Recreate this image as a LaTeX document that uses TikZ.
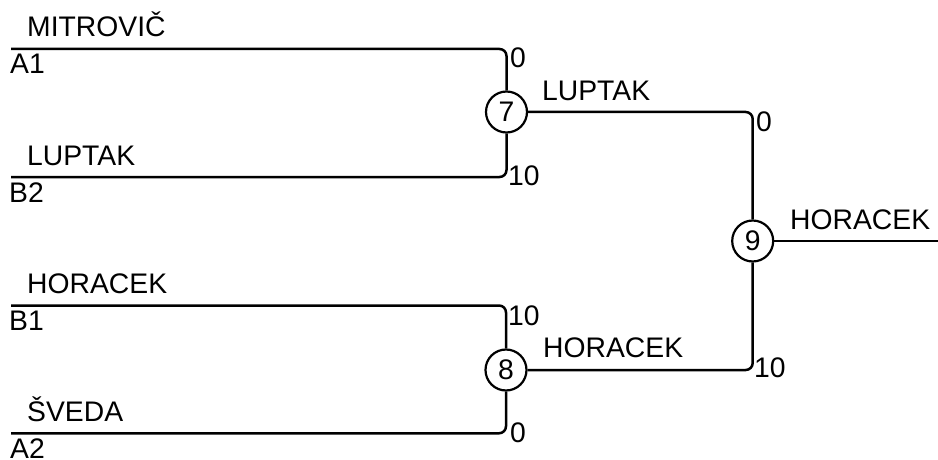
\documentclass[tikz,border=0pt]{standalone}
\usepackage{fontspec}
\setmainfont{Liberation Sans}
\usetikzlibrary{positioning}
\begin{document}
\begin{tikzpicture}[x=1pt,y=-1pt,font=\fontsize{28.3}{34}\selectfont,
    wire/.style={line width=2.5pt,rounded corners=7pt},
    match/.style={circle,draw,line width=2.2pt,minimum size=41pt,inner sep=0pt},
    lbl/.style={inner sep=0pt,anchor=base west}]
      \useasboundingbox (0,0) rectangle (938,460);
      \node[match] (m7) at (506.5,112) {7};
      \node[match] (m8) at (506,370) {8};
      \node[match] (m9) at (752.7,241) {9};
      \coordinate (a1) at (11,49);
      \coordinate (b2) at (11,177);
      \coordinate (b1) at (11,305.5);
      \coordinate (a2) at (11,433.3);
      \coordinate (out) at (938,241);
      \draw[wire] (a1) -| (m7);
      \draw[wire] (b2) -| (m7);
      \draw[wire] (b1) -| (m8);
      \draw[wire] (a2) -| (m8);
      \draw[wire] (m7) -| (m9);
      \draw[wire] (m8) -| (m9);
      \draw[wire] (m9) -- (out);
      \node[lbl] (pa1) at (27,37) {MITROVIČ};
      \node[lbl] (pb2) at (27,165) {LUPTAK};
      \node[lbl] (pb1) at (27,293.5) {HORACEK};
      \node[lbl] (pa2) at (27,421.3) {ŠVEDA};
      \node[lbl] (sa1) at (10,74) {A1};
      \node[lbl] (sb2) at (9,202) {B2};
      \node[lbl] (sb1) at (9,330.5) {B1};
      \node[lbl] (sa2) at (10,458) {A2};
      \node[lbl] (r7) at (542,100) {LUPTAK};
      \node[lbl] (r8) at (543,357) {HORACEK};
      \node[lbl] (r9) at (790,229) {HORACEK};
      \node[lbl] (ka1) at (510,68) {0};
      \node[lbl] (kb2) at (508,185.5) {10};
      \node[lbl] (kb1) at (508,325) {10};
      \node[lbl] (ka2) at (510,442) {0};
      \node[lbl] (k79) at (756,131.5) {0};
      \node[lbl] (k89) at (754,377.5) {10};
\end{tikzpicture}
\end{document}
